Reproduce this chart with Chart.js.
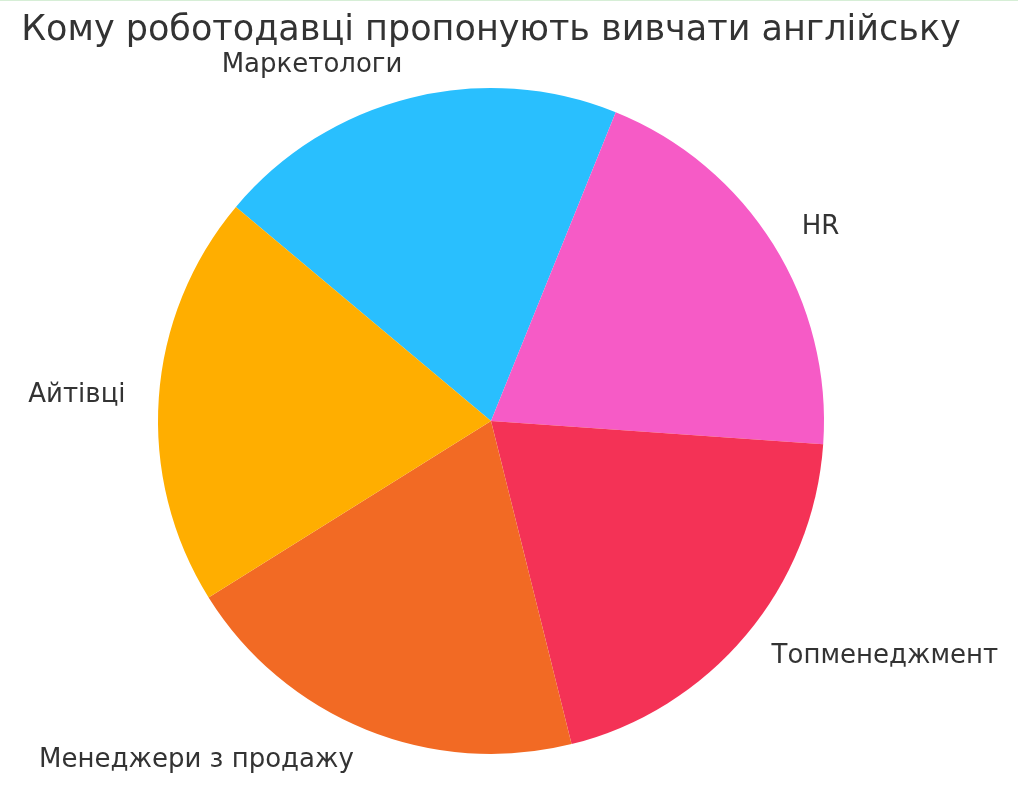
<!DOCTYPE html>
<html lang="uk">
<head>
    <meta charset="UTF-8">
    <title>Кому роботодавці пропонують вивчати англійську</title>
    <script src="https://cdn.jsdelivr.net/npm/chart.js"></script>
    <style>
        html, body { margin: 0; padding: 0; background: #fff; }
        .wrap { width: 1018px; height: 799px; border-top: 1px solid #d6eed6; }
    </style>
</head>
<body>
    <div class="wrap">
        <canvas id="pieChart" width="1018" height="799"></canvas>
    </div>

    <script>
        const categories = ['Маркетологи', 'HR', 'Топменеджмент', 'Менеджери з продажу', 'Айтівці'];
        const shares = [20, 20, 20, 20, 20];
        const sliceColors = ['#29bffe', '#f65bc6', '#f43256', '#f26a24', '#ffae00'];
        const chartTitle = 'Кому роботодавці пропонують вивчати англійську';

        // matplotlib-style labels outside the pie (labeldistance 1.1)
        const outsideLabels = {
            id: 'outsideLabels',
            afterDatasetsDraw(chart) {
                const ctx = chart.ctx;
                const meta = chart.getDatasetMeta(0);
                ctx.save();
                ctx.font = '26px "DejaVu Sans"';
                ctx.fillStyle = '#333333';
                ctx.textBaseline = 'middle';
                meta.data.forEach((arc, i) => {
                    const p = arc.getProps(['x', 'y', 'startAngle', 'endAngle', 'outerRadius'], true);
                    const mid = (p.startAngle + p.endAngle) / 2;
                    const lx = p.x + Math.cos(mid) * p.outerRadius * 1.1;
                    const ly = p.y + Math.sin(mid) * p.outerRadius * 1.1;
                    ctx.textAlign = lx < p.x ? 'right' : 'left';
                    ctx.fillText(categories[i], lx, ly);
                });
                ctx.restore();
            }
        };

        new Chart(document.getElementById('pieChart').getContext('2d'), {
            type: 'pie',
            data: {
                labels: categories,
                datasets: [{ data: shares, backgroundColor: sliceColors, borderWidth: 0 }]
            },
            options: {
                responsive: false,
                animation: false,
                rotation: -50,
                layout: { padding: { left: 0, right: 36, top: 0, bottom: 46 } },
                plugins: {
                    legend: { display: false },
                    tooltip: { enabled: false },
                    title: {
                        display: true,
                        text: chartTitle,
                        color: '#333333',
                        font: { family: 'DejaVu Sans', size: 35, weight: 'normal' },
                        padding: { top: 9, bottom: 36 }
                    }
                }
            },
            plugins: [outsideLabels]
        });
    </script>
</body>
</html>
